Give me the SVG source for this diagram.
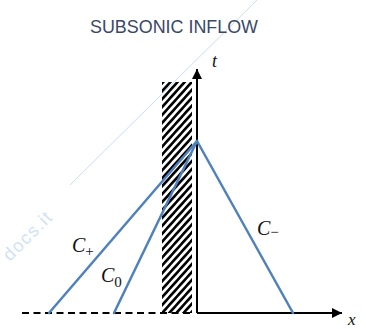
<svg xmlns="http://www.w3.org/2000/svg" width="366" height="329" viewBox="0 0 366 329">
<style>
.title{font-family:"Liberation Sans",Arial,sans-serif;font-size:17.5px;fill:#3a4868}
.math{font-family:"Liberation Serif","DejaVu Serif",serif;font-style:italic;fill:#111}
.char{stroke:#4f81bd;stroke-width:2.5;fill:none;stroke-linecap:round}
.axis{stroke:#000;stroke-width:2;fill:none}
.wm{fill:none;stroke:#c9dcf2;stroke-width:1}
</style>
<defs>
<marker id="arr" viewBox="0 0 10 10" refX="10" refY="5" markerWidth="10" markerHeight="10" markerUnits="userSpaceOnUse" orient="auto">
<path d="M0,0 L10,5 L0,10 Z" fill="#000"/>
</marker>
<pattern id="hatch" width="5.3" height="5.3" patternUnits="userSpaceOnUse" patternTransform="rotate(-48)">
<rect x="0" y="0" width="5.3" height="2.6" fill="#000"/>
</pattern>
</defs>
<rect width="366" height="329" fill="#fff"/>
<g id="watermark">
<line class="wm" x1="257" y1="0" x2="70" y2="185"/>
<text x="10" y="262" transform="rotate(-45 10 262)" font-family="'Liberation Sans',Arial,sans-serif" font-size="18" letter-spacing="1.5" fill="#d2e2f4">docs.it</text>
</g>
<g id="title"><text class="title" x="90" y="33" textLength="168" lengthAdjust="spacingAndGlyphs">SUBSONIC INFLOW</text></g>
<g id="wall"><rect x="162" y="82" width="30" height="231" fill="url(#hatch)"/></g>
<g id="axes">
<line class="axis" x1="197" y1="313" x2="197" y2="69" marker-end="url(#arr)"/>
<line class="axis" x1="197" y1="313" x2="342" y2="313" marker-end="url(#arr)"/>
<line class="axis" x1="22" y1="313" x2="192" y2="313" stroke-dasharray="7,4.5"/>
<text class="math" x="212" y="67" font-size="18">t</text>
<text class="math" x="348" y="325" font-size="17">x</text>
</g>
<g id="connectors">
<line class="char" x1="49" y1="313" x2="197" y2="141"/>
<line class="char" x1="114" y1="313" x2="197" y2="141"/>
<line class="char" x1="197" y1="141" x2="293" y2="313"/>
</g>
<g id="labels">
<text class="math" x="72" y="252" font-size="20">C<tspan font-size="15" font-style="normal" dy="4">+</tspan></text>
<text class="math" x="101" y="282" font-size="20">C<tspan font-size="15" font-style="normal" dy="5">0</tspan></text>
<text class="math" x="257" y="235" font-size="20">C<tspan font-size="15" font-style="normal" dy="2">−</tspan></text>
</g>
</svg>
